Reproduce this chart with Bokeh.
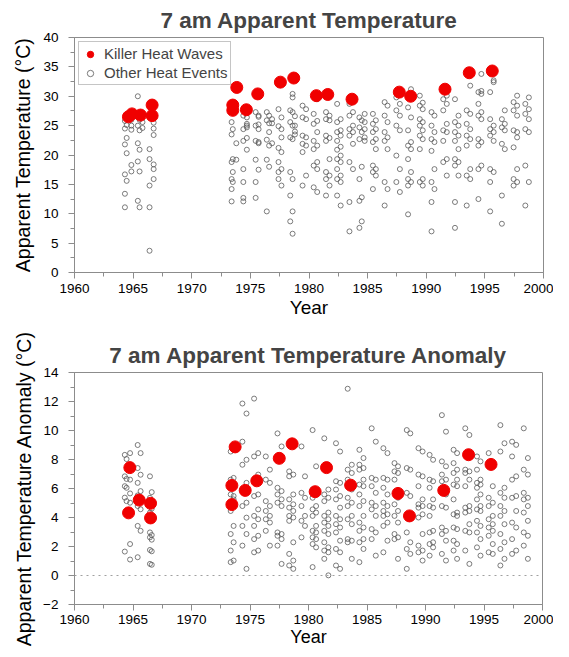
from bokeh.plotting import figure
from bokeh.layouts import column
from bokeh.models import Span, Legend, LegendItem, SingleIntervalTicker
from bokeh.embed import file_html
from bokeh.resources import INLINE

FONT = "Liberation Sans"

# ---------------- data: top panel (apparent temperature, deg C) ----------------
killer_top_year = [1964.6, 1964.9, 1965.63, 1966.62, 1966.62, 1973.5, 1973.5, 1973.84, 1974.66, 1975.63,
                   1977.56, 1978.7, 1980.63, 1981.6, 1983.67, 1987.7, 1988.67, 1991.6, 1993.67, 1995.63]
killer_top_temp = [26.5, 27.0, 26.8, 28.5, 26.7, 28.5, 27.6, 31.5, 27.7, 30.4,
                   32.4, 33.1, 30.1, 30.3, 29.5, 30.7, 30.0, 31.2, 34.0, 34.3]

other_top_col_year = [1964.3, 1964.45, 1964.85, 1965.4, 1965.55, 1965.8, 1966.4, 1966.75,
                      1973.4, 1973.5, 1973.8, 1974.4, 1974.7, 1975.45, 1975.7, 1976.4, 1976.6, 1976.85,
                      1977.4, 1977.65, 1978.4, 1978.6, 1978.8, 1979.45, 1979.75, 1980.4, 1980.7,
                      1981.45, 1981.75, 1982.4, 1982.7, 1983.45, 1983.75, 1984.3, 1984.5, 1984.75,
                      1985.45, 1985.7, 1986.45, 1986.7, 1987.45, 1987.75, 1988.45, 1988.7,
                      1989.45, 1989.7, 1990.45, 1990.7, 1991.45, 1991.75, 1992.45, 1992.75,
                      1993.45, 1993.75, 1994.45, 1994.7, 1995.45, 1995.75, 1996.45, 1996.7,
                      1997.45, 1997.75, 1998.45, 1998.75]
other_top_col_temp = [
    [25.8, 24.5, 21.8, 16.7, 13.4, 11.1], [25.1, 22.9, 20.3, 15.6], [26.0, 25.0, 24.3, 18.3, 17.2],
    [30.0, 25.0, 22.0, 18.9, 12.2], [26.0, 24.2, 20.9, 17.2, 11.1], [25.6, 24.6],
    [21.0, 19.3, 14.8, 11.1, 3.7], [26.3, 25.5, 24.5, 23.4, 18.4, 17.6, 15.9],
    [25.6, 23.5, 18.8, 15.9, 14.2, 12.1], [24.4, 19.3, 17.1, 15.4], [22.0, 19.2],
    [26.7, 24.4, 22.4, 17.6, 15.4, 12.7, 12.1], [26.4, 25.3, 25.0, 24.7, 22.9, 20.9],
    [27.3, 25.0, 22.4, 19.2, 15.4, 12.7], [26.7, 26.5, 25.2, 24.4, 22.2, 22.0, 17.5],
    [27.3, 25.9, 22.6, 19.2, 10.4], [26.7, 25.4, 23.9, 21.6, 18.0], [26.1, 25.4, 22.0],
    [27.8, 24.9, 21.2, 18.8, 17.1, 15.9], [26.4, 24.4, 23.0, 20.5, 17.6, 14.8],
    [27.6, 25.6, 23.0, 17.1, 13.1, 8.7], [30.4, 29.8, 27.3, 25.0, 22.7, 15.9, 10.4, 6.6], [26.6, 25.0, 24.0, 23.5],
    [28.4, 26.4, 23.3, 21.9, 20.5, 14.8], [27.8, 26.1, 23.0, 21.6, 16.5],
    [27.0, 25.3, 22.4, 21.0, 18.2, 14.5], [29.5, 25.8, 23.9, 21.6, 18.8, 17.6, 13.7],
    [27.3, 26.1, 23.3, 22.4, 17.1, 15.9, 13.1], [26.7, 25.9, 22.9, 19.3, 16.5, 14.8],
    [28.7, 25.6, 23.9, 22.4, 20.9, 19.3, 17.6, 15.9, 13.1], [26.1, 24.2, 23.3, 21.4, 19.9, 18.8, 16.5, 15.4, 11.4],
    [28.7, 26.7, 24.4, 23.3, 18.8, 12.0, 7.0], [27.3, 25.0, 23.9, 21.9, 17.6],
    [26.4, 24.7, 22.7, 15.9, 12.2, 7.6], [25.9, 23.9, 18.0, 12.8, 8.7], [27.0, 25.6, 24.4, 23.0, 22.4],
    [27.0, 25.3, 23.9, 22.2, 18.2, 17.1, 14.2], [25.9, 24.4, 22.7, 21.0, 17.6, 16.5],
    [29.0, 26.7, 23.9, 22.4, 15.4, 11.4], [28.4, 25.6, 23.0, 21.0, 14.2],
    [29.8, 27.6, 25.0, 19.9, 15.4], [28.7, 26.7, 24.2, 17.6, 13.7],
    [28.1, 24.2, 21.6, 19.3, 15.9, 14.8, 9.9], [31.2, 26.4, 22.2, 21.0, 17.1, 15.4],
    [30.1, 28.4, 26.1, 25.0, 23.3, 21.0, 15.4], [28.9, 27.8, 25.6, 24.2, 22.7, 15.9, 14.8],
    [27.3, 25.0, 22.7, 20.7, 15.4, 12.0, 7.0], [26.7, 23.9, 22.2, 17.6, 14.2],
    [29.5, 27.6, 24.2, 22.4, 18.8], [30.1, 28.7, 25.3, 23.9, 19.3, 16.5],
    [29.5, 25.6, 23.9, 22.4, 19.3, 18.2, 12.0, 7.6], [26.7, 25.0, 23.3, 21.0, 18.8, 16.5],
    [27.6, 25.3, 23.3, 21.6, 16.5, 11.4], [31.8, 27.0, 24.4, 22.7, 17.6, 15.9],
    [30.7, 28.7, 26.7, 22.7, 21.6, 17.6, 12.5], [33.8, 30.9, 30.4, 27.3, 26.1, 22.2, 18.2],
    [30.7, 26.1, 24.4, 23.3, 17.6, 15.4, 10.4], [32.7, 32.4, 25.0, 23.9, 22.4, 17.1],
    [26.1, 24.7, 21.9, 13.1, 8.3], [27.6, 25.3, 24.2, 21.0],
    [29.0, 27.6, 24.2, 21.3, 15.9, 14.8], [30.1, 28.4, 26.7, 23.9, 23.0, 17.6, 15.4],
    [28.7, 27.0, 24.4, 18.2, 11.4], [29.8, 27.8, 26.1, 23.9, 15.4],
]

# ---------------- data: bottom panel (anomaly, deg C) ----------------
killer_anom_year = [1964.62, 1964.73, 1965.53, 1966.5, 1966.5, 1973.45, 1973.45, 1973.73, 1974.59, 1975.58,
                    1977.5, 1978.6, 1980.57, 1981.54, 1983.6, 1987.65, 1988.63, 1991.56, 1993.68, 1995.6]
killer_anom = [4.32, 7.44, 5.2, 4.98, 3.97, 4.89, 6.21, 8.87, 5.87, 6.53,
               8.08, 9.08, 5.78, 7.44, 6.23, 5.66, 4.11, 5.87, 8.33, 7.66]

other_anom_col_year = [1964.3, 1964.45, 1964.75, 1965.4, 1965.65, 1966.45, 1966.6,
                       1973.35, 1973.6, 1974.35, 1974.7, 1975.35, 1975.7, 1976.35, 1976.7,
                       1977.35, 1977.7, 1978.35, 1978.7, 1979.4, 1979.7, 1980.35, 1980.65,
                       1981.35, 1981.7, 1982.35, 1982.7, 1983.35, 1983.7, 1984.35, 1984.7,
                       1985.4, 1985.75, 1986.4, 1986.75, 1987.35, 1987.65, 1988.4, 1988.7,
                       1989.4, 1989.75, 1990.35, 1990.65, 1991.4, 1991.75, 1992.4, 1992.7,
                       1993.4, 1993.75, 1994.4, 1994.7, 1995.4, 1995.75, 1996.4, 1996.75,
                       1997.4, 1997.75, 1998.4, 1998.75]
other_anom_col_val = [
    [8.32, 6.84, 6.16, 5.37, 1.65], [8.03, 6.66, 6.05, 5.13], [8.44, 6.61, 5.66, 5.02, 2.17, 1.1],
    [9.0, 7.41, 6.39, 5.52, 4.79, 3.42, 1.26], [8.44, 6.95, 5.82, 5.2, 4.57, 3.08],
    [6.84, 5.36, 4.34, 2.97, 2.63, 1.76, 0.80], [5.75, 4.61, 2.79, 2.47, 1.67, 0.74],
    [8.55, 6.61, 5.59, 4.45, 2.86, 1.72, 0.92], [6.73, 6.16, 5.48, 5.25, 3.42, 2.29, 1.03],
    [11.86, 9.23, 7.64, 5.93, 4.79, 3.42, 2.06], [11.17, 7.98, 6.39, 5.02, 3.99, 2.86, 0.46],
    [12.2, 8.21, 6.61, 5.48, 4.11, 3.42, 2.51, 1.6], [8.44, 6.96, 5.59, 4.56, 3.88, 2.74, 1.72],
    [8.21, 6.61, 5.13, 4.45, 3.88, 3.08], [7.3, 6.39, 4.79, 4.11, 3.65, 2.06],
    [9.8, 6.05, 5.59, 5.02, 2.97, 2.74, 2.06], [8.9, 5.82, 5.25, 4.79, 2.86, 2.51, 0.8],
    [7.18, 6.84, 5.25, 4.68, 4.11, 3.77, 1.49, 0.69], [6.96, 5.59, 4.91, 4.45, 4.0, 2.29, 1.03, 0.46],
    [8.9, 5.7, 4.79, 3.77, 2.63], [6.84, 5.36, 4.11, 3.42],
    [10.03, 5.93, 5.36, 4.56, 4.11, 3.08, 2.63, 2.17, 0.58], [7.53, 5.59, 4.79, 4.34, 3.42, 2.97, 2.51, 1.94],
    [9.46, 5.59, 5.13, 4.11, 3.65, 3.08, 2.29, 1.72, 1.15], [5.93, 5.36, 4.34, 3.88, 3.42, 2.86, 1.94, 1.6, 0.01],
    [9.12, 6.5, 5.93, 5.25, 4.11, 3.54, 2.97, 1.83, 0.69], [8.55, 6.39, 5.48, 4.68, 3.88, 3.31, 2.4, 1.6, 0.46],
    [12.88, 7.3, 6.61, 5.36, 4.79, 3.88, 2.51, 2.29], [7.64, 7.07, 5.93, 5.02, 4.11, 3.54, 2.4, 1.15],
    [8.67, 7.64, 7.3, 6.27, 5.59, 4.79, 3.65, 3.08, 2.29, 0.92], [8.1, 7.41, 6.61, 6.16, 5.13, 4.11, 3.31, 2.51, 1.83],
    [10.15, 6.73, 6.16, 5.02, 4.56, 3.2, 2.51], [9.23, 6.61, 5.7, 4.79, 4.11, 2.97, 1.37],
    [8.78, 6.73, 6.05, 5.02, 4.45, 4.11, 3.42, 1.6], [8.44, 6.61, 5.59, 4.79, 4.22, 3.65, 2.4],
    [7.75, 7.18, 6.61, 4.91, 4.11, 2.86, 2.51], [7.53, 7.07, 5.36, 4.45, 3.65, 2.63, 1.15],
    [10.03, 7.41, 5.7, 2.97, 1.83, 0.46], [9.8, 7.3, 5.48, 2.29, 1.49],
    [8.78, 6.96, 6.16, 4.91, 4.68, 4.0, 2.06, 1.6], [8.55, 6.84, 5.25, 4.79, 4.22, 2.86, 1.72, 1.03],
    [8.32, 6.61, 6.05, 4.79, 4.11, 2.97, 2.17, 1.37], [7.98, 6.5, 5.25, 4.68, 3.08, 2.29, 1.94],
    [11.06, 7.87, 6.96, 6.5, 4.79, 3.31, 2.86, 1.49], [9.92, 7.53, 6.61, 5.59, 4.68, 3.08, 2.4, 1.03],
    [8.67, 7.75, 7.07, 6.27, 5.25, 4.22, 3.31, 2.4, 1.72], [8.44, 7.3, 6.61, 6.16, 4.34, 4.11, 3.2, 2.17, 1.15],
    [10.15, 7.3, 7.07, 6.16, 4.68, 4.34, 3.08, 1.72], [9.69, 7.18, 6.61, 4.79, 4.45, 3.54, 2.97, 0.8],
    [8.21, 7.3, 6.39, 6.05, 5.25, 4.56, 3.77, 2.97, 1.94], [7.87, 6.61, 6.27, 5.59, 4.79, 4.45, 3.42, 2.51, 1.37],
    [8.44, 5.36, 4.79, 3.88, 3.31, 2.74, 1.6], [6.16, 5.02, 4.11, 3.54, 3.08, 2.17, 1.49],
    [10.37, 8.55, 5.7, 4.79, 4.11, 2.86, 1.83, 0.69], [9.12, 6.05, 5.36, 4.45, 3.54, 2.29, 1.15],
    [9.23, 8.21, 6.61, 5.36, 3.65, 2.51, 1.49], [9.01, 6.84, 5.48, 4.45, 3.31, 1.72],
    [10.15, 7.3, 5.7, 5.25, 4.34, 2.97, 2.06], [8.1, 6.96, 5.36, 4.79, 3.77, 2.74, 1.15],
]


def flatten(col_x, col_vals):
    xs, ys = [], []
    for x, vals in zip(col_x, col_vals):
        for v in vals:
            xs.append(x)
            ys.append(v)
    return xs, ys


GRAY = "#8c8c8c"
RED = "#f00000"


def style(p, ylabel, y_interval):
    p.title.text_font = FONT
    p.title.text_font_size = "22.5px"
    p.title.text_font_style = "bold"
    p.title.align = "center"
    p.outline_line_color = GRAY
    p.outline_line_width = 1
    p.xgrid.visible = False
    p.ygrid.visible = False
    p.xaxis.ticker = SingleIntervalTicker(interval=5, num_minor_ticks=2)
    p.yaxis.ticker = SingleIntervalTicker(interval=y_interval, num_minor_ticks=2)
    for ax in (p.xaxis[0], p.yaxis[0]):
        ax.axis_line_color = GRAY
        ax.major_tick_line_color = GRAY
        ax.minor_tick_line_color = GRAY
        ax.major_tick_out = 6
        ax.major_tick_in = 0
        ax.minor_tick_out = 4
        ax.minor_tick_in = 0
        ax.major_label_text_font = FONT
        ax.major_label_text_font_size = "13.5px"
        ax.major_label_text_color = "black"
        ax.axis_label_text_font = FONT
        ax.axis_label_text_font_style = "normal"
        ax.axis_label_text_color = "black"
    p.xaxis.axis_label = "Year"
    p.xaxis.axis_label_text_font_size = "19px"
    p.xaxis.axis_label_standoff = 1
    p.xaxis.major_label_standoff = 5
    p.yaxis.axis_label = ylabel
    p.yaxis.axis_label_text_font_size = "19.5px"
    p.yaxis.major_label_standoff = 10


# ---------------- top figure ----------------
p1 = figure(frame_width=469, frame_height=235, x_range=(1960, 2000), y_range=(0, 40),
            output_backend="svg", toolbar_location=None,
            title="7 am Apparent Temperature",
            min_border_left=68, min_border_right=16, min_border_top=29, min_border_bottom=54)
style(p1, "Apparent Temperature (°C)", 5)
p1.yaxis.axis_label_standoff = 6

ox, oy = flatten(other_top_col_year, other_top_col_temp)
r_other = p1.scatter(ox, oy, marker="circle", size=5, fill_color=None,
                     line_color="#5a5a5a", line_width=0.8)
r_kill = p1.scatter(killer_top_year, killer_top_temp, marker="circle", size=12,
                    fill_color=RED, line_color=RED)

legend = Legend(items=[LegendItem(label="Killer Heat Waves", renderers=[r_kill]),
                       LegendItem(label="Other Heat Events", renderers=[r_other])],
                location="top_left")
legend.label_text_font = FONT
legend.label_text_font_size = "15px"
legend.border_line_color = GRAY
legend.border_line_width = 1
legend.margin = 4
legend.padding = 3
legend.spacing = 2
legend.glyph_width = 16
legend.glyph_height = 16
legend.label_standoff = 6
legend.label_height = 17
p1.add_layout(legend)

# ---------------- bottom figure ----------------
p2 = figure(frame_width=468, frame_height=232, x_range=(1960, 2000), y_range=(-2, 14),
            output_backend="svg", toolbar_location=None,
            title="7 am Apparent Temperature Anomaly",
            min_border_left=74, min_border_right=11, min_border_top=46, min_border_bottom=45)
style(p2, "Apparent Temperature Anomaly (°C)", 2)
p2.yaxis.axis_label_standoff = 5
p2.xaxis.axis_label_standoff = 0
p2.xaxis.major_label_standoff = 4
p2.xaxis.axis_label_text_font_size = "18px"

p2.add_layout(Span(location=0, dimension="width", line_color="#a0a0a0",
                   line_dash="dotted", line_width=1))
ax2, ay2 = flatten(other_anom_col_year, other_anom_col_val)
p2.scatter(ax2, ay2, marker="circle", size=5, fill_color=None,
           line_color="#5a5a5a", line_width=0.8)
p2.scatter(killer_anom_year, killer_anom, marker="circle", size=12,
           fill_color=RED, line_color=RED)

layout = column(p1, p2, spacing=0)
open("out.html", "w").write(file_html(layout, INLINE))
